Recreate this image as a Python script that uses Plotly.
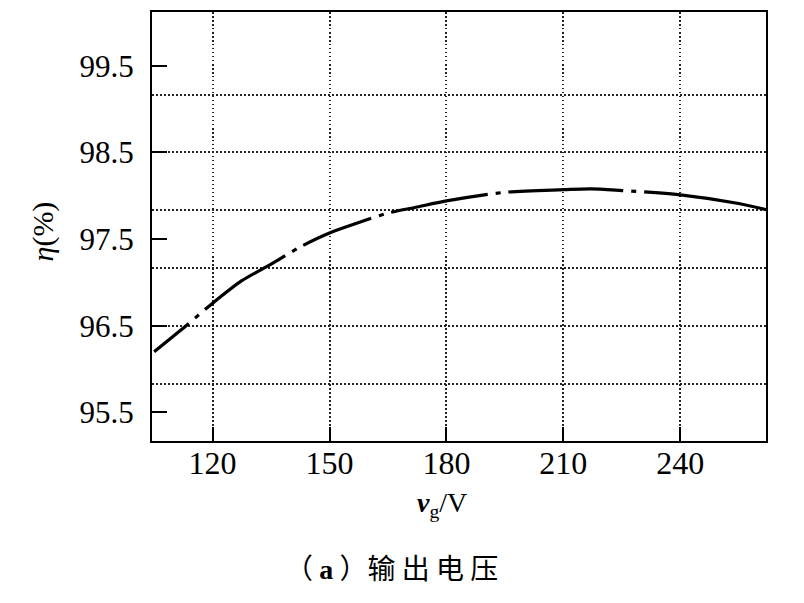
import plotly.graph_objects as go

# ---- data ----
vg = [105, 113.2, 120, 127.5, 135, 142.5, 150, 157.5, 165, 172.5, 180, 195, 210, 217, 225, 240, 255, 262]
eta = [96.20, 96.50, 96.76, 97.02, 97.21, 97.41, 97.57, 97.69, 97.80, 97.87, 97.94, 98.04, 98.07, 98.08, 98.06, 98.01, 97.91, 97.84]

x_ticks = [120, 150, 180, 210, 240]
y_ticks = [95.5, 96.5, 97.5, 98.5, 99.5]
y_ticklabels = ["95.5", "96.5", "97.5", "98.5", "99.5"]
y_grid = [95.8333, 96.5, 97.1667, 97.8333, 98.5, 99.1667]

x_range = [104.45, 262.0]
y_range = [95.17, 100.12]

serif = "Liberation Serif, Times New Roman, serif"
cjk = "Noto Sans CJK SC, sans-serif"
grid_dash = "1.5px,2.5px"
curve_dash = ("45px,8px,5px,8px,97px,8px,5px,8px,73px,8px,5px,8px,"
              "98px,8px,5px,8px,115px,8px,5px,8px,300px")

fig = go.Figure()
fig.add_trace(go.Scatter(
    x=vg, y=eta, mode="lines",
    line=dict(color="black", width=3.2, dash=curve_dash, shape="spline", smoothing=0.8),
    showlegend=False, hoverinfo="skip",
))
# invisible trace so the grid axis is active
fig.add_trace(go.Scatter(x=[vg[0]], y=[eta[0]], yaxis="y2", mode="lines",
                         line=dict(width=0), showlegend=False, hoverinfo="skip"))

# page body has an 8px margin, so the figure is 8px smaller than the window
fig.update_layout(
    width=796, height=595,
    margin=dict(l=144, r=38, t=2, b=162),
    paper_bgcolor="white", plot_bgcolor="white",
    font=dict(family=serif, color="black", size=31),
    xaxis=dict(
        range=x_range, tickvals=x_ticks, ticktext=[str(v) for v in x_ticks],
        ticks="inside", ticklen=14, tickwidth=2, tickcolor="black",
        showline=True, linecolor="black", linewidth=2, mirror=True,
        showgrid=True, gridcolor="#222", gridwidth=1.5, griddash=grid_dash,
        zeroline=False, tickfont=dict(family=serif, size=32, color="black"),
        ticklabelstandoff=-7,
    ),
    yaxis=dict(
        range=y_range, tickvals=y_ticks, ticktext=y_ticklabels,
        ticks="inside", ticklen=15, tickwidth=2, tickcolor="black",
        showline=True, linecolor="black", linewidth=2, mirror=True,
        showgrid=False, zeroline=False,
        tickfont=dict(family=serif, size=31, color="black"),
        ticklabelstandoff=10,
    ),
    yaxis2=dict(
        range=y_range, overlaying="y", side="left",
        tickvals=y_grid, showticklabels=False, ticks="",
        showline=False, zeroline=False,
        showgrid=True, gridcolor="#222", gridwidth=1.5, griddash=grid_dash,
    ),
)

fig.add_annotation(
    text="<i>η</i>(%)", xref="paper", yref="paper", x=0, y=0.5,
    xanchor="center", yanchor="middle",
    xshift=-110, yshift=-5, textangle=-90, showarrow=False,
    font=dict(family=serif, size=30, color="black"),
)
fig.add_annotation(
    text="<b><i>v</i></b><sub>g</sub>/V", xref="paper", yref="paper", x=0.5, y=0,
    xanchor="center", yanchor="middle",
    xshift=-17, yshift=-63, showarrow=False,
    font=dict(family=serif, size=28, color="black"),
)
fig.add_annotation(
    text='（ <span style="font-family:Liberation Serif"><b>a</b></span> ）输 出 电 压',
    xref="paper", yref="paper", x=0.5, y=0,
    xanchor="center", yanchor="middle",
    xshift=-68, yshift=-126, showarrow=False,
    font=dict(family=cjk, size=28, color="black"),
)

fig.write_html("out.html")
